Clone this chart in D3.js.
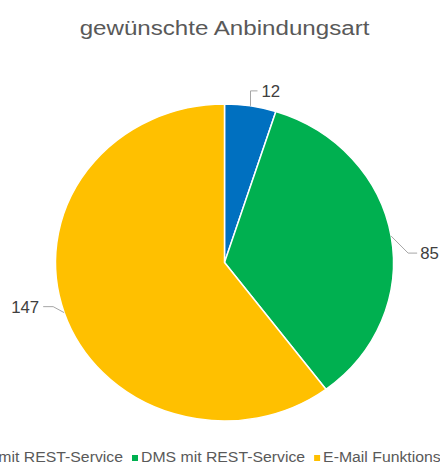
<!DOCTYPE html>
<html>
<head>
<meta charset="utf-8">
<script src="https://cdn.jsdelivr.net/npm/d3@7"></script>
<style>
  html, body { margin: 0; padding: 0; background: #fff; }
  svg { display: block; }
  text { font-family: "Liberation Sans", Arial, sans-serif; }
</style>
</head>
<body>
<svg id="chart" width="440" height="465"></svg>
<script>
// ---- data ----
const title = "gewünschte Anbindungsart";
const categories = ["Dateisystem mit REST-Service", "DMS mit REST-Service", "E-Mail Funktionspostfach"];
const values = [12, 85, 147];
const colors = ["#0070C0", "#00B050", "#FFC000"];

// ---- layout ----
const cx = 224.5, cy = 262.5;
const ry = 158.5, stretchX = 169 / 158.5;     // pie drawn slightly wide like the reference
const textStretch = 1.15, legendStretch = 1.09, labelStretch = 1.05;
const leaders = [
  { elbow: [0, -15], end: [7, -15], anchor: "start", tdx: 4 },
  { elbow: [17, 17], end: [26, 17], anchor: "start", tdx: 3 },
  { elbow: [-11, -6], end: [-21, -6], anchor: "end", tdx: -4 }
];

const svg = d3.select("#chart");

svg.append("text")
  .attr("transform", `translate(${cx},35) scale(${textStretch},1)`)
  .attr("text-anchor", "middle")
  .attr("font-size", 21)
  .attr("fill", "#595959")
  .text(title);

const pie = d3.pie().sort(null).value(d => d);
const arcs = pie(values);
const arc = d3.arc().innerRadius(0).outerRadius(ry);

const g = svg.append("g").attr("transform", `translate(${cx},${cy})`);
g.append("g").attr("transform", `scale(${stretchX},1)`)
  .selectAll("path").data(arcs).join("path")
  .attr("d", arc)
  .attr("fill", (d, i) => colors[i])
  .attr("stroke", "#fff")
  .attr("stroke-width", 1.5)
  .attr("vector-effect", "non-scaling-stroke");

arcs.forEach((d, i) => {
  const a = (d.startAngle + d.endAngle) / 2;
  const px = Math.sin(a) * ry * stretchX;
  const py = -Math.cos(a) * ry;
  const L = leaders[i];
  g.append("path")
    .attr("d", `M${px},${py}L${px + L.elbow[0]},${py + L.elbow[1]}L${px + L.end[0]},${py + L.end[1]}`)
    .attr("fill", "none")
    .attr("stroke", "#A6A6A6")
    .attr("stroke-width", 1);
  g.append("text")
    .attr("transform", `translate(${px + L.end[0] + L.tdx},${py + L.end[1] + 6}) scale(${labelStretch},1)`)
    .attr("text-anchor", L.anchor)
    .attr("font-size", 16)
    .attr("fill", "#404040")
    .text(values[i]);
});

// legend
const leg = svg.append("g");
const items = leg.selectAll("g").data(categories).join("g");
items.append("rect").attr("width", 6).attr("height", 6).attr("y", -7)
  .attr("fill", (d, i) => colors[i]);
items.append("text")
  .attr("x", 9 / legendStretch)
  .attr("font-size", 14.5)
  .attr("fill", "#595959")
  .attr("transform", `scale(${legendStretch},1)`)
  .text(d => d);
let xpos = 0;
const offs = [];
items.each(function(d, i) {
  const tw = d3.select(this).select("text").node().getComputedTextLength() * legendStretch;
  offs.push(xpos);
  xpos += 9 + tw + 9;
});
const shift = 132 - offs[1];
items.attr("transform", (d, i) => `translate(${offs[i] + shift},462)`);
</script>
</body>
</html>
